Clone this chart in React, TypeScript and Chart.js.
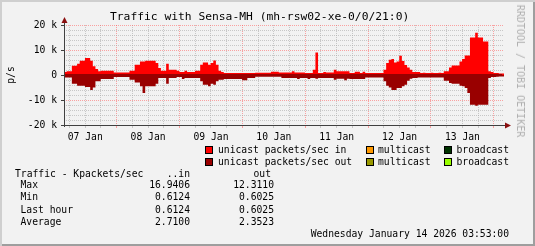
import React, { useEffect, useRef } from 'react';
import { Chart, registerables } from 'chart.js';
Chart.register(...registerables);

// Time window: 07 Jan 03:53 -> 14 Jan 03:53, hourly samples
const startHour = 3 + 53 / 60;
const hoursShown = 168;
const dayLabels = ['07 Jan', '08 Jan', '09 Jan', '10 Jan', '11 Jan', '12 Jan', '13 Jan'];

// unicast packets/sec in (Kpackets/s), one value per hour
const inValues = [
  1.2, 1.2, 1.5, 1.5, 3.7, 3.7, 4.5, 5.7, 5.7, 6.8, 6.8, 5.7, 3.5, 2.4, 1.5, 1.7, 1.7, 1.7, 1.7, 1.7,
  1.0, 1.0, 1.0, 1.0, 1.0, 1.0, 1.7, 1.7, 4.1, 4.1, 5.4, 5.4, 5.7, 5.7, 5.7, 5.7, 4.8, 2.8, 1.7, 1.7,
  4.5, 2.1, 2.1, 2.1, 1.7, 1.2, 1.2, 1.7, 1.2, 1.2, 1.2, 1.7, 1.7, 4.1, 5.0, 5.0, 4.1, 4.8, 5.8, 4.1,
  1.7, 1.2, 0.8, 0.8, 0.8, 0.8, 0.8, 0.8, 0.8, 0.8, 0.8, 0.8, 0.8, 0.8, 0.9, 0.9, 0.9, 0.9, 0.9, 0.9,
  1.3, 1.3, 1.3, 1.0, 1.0, 1.0, 1.0, 1.0, 1.5, 1.0, 1.0, 1.0, 1.0, 0.8, 0.8, 0.8, 2.1, 9.0, 0.8, 0.8,
  1.2, 1.0, 1.0, 1.0, 2.1, 1.5, 1.5, 1.5, 1.5, 1.5, 0.8, 0.8, 1.3, 1.3, 0.8, 1.3, 0.8, 0.8, 0.8, 0.8,
  0.8, 0.8, 0.8, 2.1, 4.8, 6.1, 6.4, 5.0, 5.4, 7.7, 5.6, 4.0, 3.0, 2.1, 1.2, 1.2, 1.2, 0.8, 0.9, 0.8,
  0.8, 0.9, 0.8, 0.8, 0.9, 0.8, 1.5, 1.5, 3.0, 3.8, 3.8, 3.8, 5.4, 6.4, 7.8, 7.8, 15.0, 15.0, 16.94, 15.0,
  15.0, 13.4, 13.4, 1.5, 1.2, 0.8, 0.8, 0.61,
];

// unicast packets/sec out (Kpackets/s), one value per hour, drawn below zero
const outValues = [
  1.0, 1.0, 1.0, 1.0, 3.5, 3.5, 4.3, 4.3, 4.3, 4.8, 4.8, 6.0, 5.0, 2.5, 2.5, 1.6, 1.6, 1.6, 1.6, 1.6,
  0.8, 0.8, 0.8, 0.8, 0.8, 0.8, 1.9, 1.9, 3.0, 3.0, 4.5, 7.2, 4.5, 4.5, 4.5, 4.5, 3.5, 1.2, 1.2, 1.2,
  3.5, 1.2, 1.2, 1.2, 0.8, 0.8, 1.6, 1.2, 1.2, 1.2, 1.2, 1.2, 1.2, 2.5, 3.9, 3.9, 4.5, 3.5, 3.9, 2.5,
  1.9, 1.9, 1.6, 1.6, 1.6, 1.6, 1.6, 1.6, 1.6, 2.1, 2.1, 1.2, 1.2, 1.2, 0.7, 0.7, 0.7, 0.7, 0.7, 0.7,
  0.7, 0.7, 0.7, 0.7, 1.2, 1.2, 1.2, 1.2, 1.2, 1.2, 1.6, 1.2, 1.2, 1.2, 1.6, 1.2, 1.2, 1.5, 1.2, 1.2,
  1.2, 1.2, 1.2, 1.2, 1.9, 1.5, 1.5, 1.5, 2.1, 1.5, 1.6, 1.6, 1.6, 1.6, 1.6, 1.6, 1.0, 1.0, 1.0, 1.0,
  1.0, 1.0, 1.0, 2.5, 4.3, 5.0, 6.0, 6.0, 5.2, 5.2, 4.5, 3.9, 2.3, 1.5, 1.2, 1.2, 1.0, 1.0, 1.0, 1.0,
  1.0, 1.0, 1.0, 1.0, 1.0, 1.0, 2.3, 2.3, 3.2, 3.5, 3.5, 3.5, 4.3, 4.5, 5.2, 7.2, 11.9, 11.9, 12.31, 11.9,
  11.9, 11.9, 11.9, 1.2, 0.8, 0.8, 0.7, 0.6,
];

const legendRow1 = [
  { color: '#ff0000', label: 'unicast packets/sec in' },
  { color: '#ff9900', label: 'multicast' },
  { color: '#003300', label: 'broadcast' },
];
const legendRow2 = [
  { color: '#990000', label: 'unicast packets/sec out' },
  { color: '#999900', label: 'multicast' },
  { color: '#99ff00', label: 'broadcast' },
];
const statLabels = ['Max', 'Min', 'Last hour', 'Average'];
const statIn = ['16.9406', '0.6124', '0.6124', '2.7100'];
const statOut = ['12.3110', '0.6025', '0.6025', '2.3523'];
const titleText = 'Traffic with Sensa-MH (mh-rsw02-xe-0/0/21:0)';
const dateText = 'Wednesday January 14 2026 03:53:00';

const MONO = '"DejaVu Sans Mono", monospace';
const BG = '#f2f2f2';
const MINOR = 'rgba(170,170,170,0.6)';
const MAJOR = 'rgba(255,80,80,0.5)';

const toSteps = (vals: number[], sign: number) => {
  const pts = vals.map((v, i) => ({ x: i, y: sign * v }));
  pts.push({ x: vals.length, y: sign * vals[vals.length - 1] });
  return pts;
};

const hourOfDay = (v: number) => ((Math.round((startHour + v) * 60) / 60) % 24 + 24) % 24;
const isMajorY = (v: number) => {
  const r = Math.round(v);
  return Math.abs(r - v) < 1e-6 && r % 10 === 0;
};

const axisDecor = {
  id: 'axisDecor',
  afterDatasetsDraw(chart: any) {
    const { ctx, chartArea, scales } = chart;
    const y0 = scales.y.getPixelForValue(0);
    ctx.save();
    ctx.fillStyle = '#990000';
    ctx.fillRect(chartArea.left, y0 - 1, chartArea.right - chartArea.left - 2, 2);
    ctx.restore();
  },
  afterDraw(chart: any) {
    const { ctx, chartArea } = chart;
    const { left, right, top, bottom } = chartArea;
    ctx.save();
    ctx.strokeStyle = '#404040';
    ctx.lineWidth = 1;
    ctx.beginPath();
    ctx.moveTo(left + 0.5, bottom + 2);
    ctx.lineTo(left + 0.5, top - 4);
    ctx.moveTo(left - 3, bottom + 0.5);
    ctx.lineTo(right + 3, bottom + 0.5);
    ctx.stroke();
    ctx.fillStyle = '#8b1010';
    ctx.beginPath();
    ctx.moveTo(left + 0.5, top - 8);
    ctx.lineTo(left - 2.5, top - 2);
    ctx.lineTo(left + 3.5, top - 2);
    ctx.closePath();
    ctx.fill();
    ctx.beginPath();
    ctx.moveTo(right + 7, bottom + 0.5);
    ctx.lineTo(right + 1, bottom - 2.5);
    ctx.lineTo(right + 1, bottom + 3.5);
    ctx.closePath();
    ctx.fill();
    ctx.restore();
  },
};

function TrafficChart() {
  const ref = useRef<HTMLCanvasElement>(null);
  useEffect(() => {
    if (!ref.current) return;
    const chart = new Chart(ref.current, {
      type: 'line',
      data: {
        datasets: [
          {
            label: 'unicast packets/sec in',
            data: toSteps(inValues, 1),
            stepped: 'after',
            fill: 'origin',
            backgroundColor: '#ff0000',
            borderColor: 'transparent',
            borderWidth: 0,
            pointRadius: 0,
          },
          {
            label: 'unicast packets/sec out',
            data: toSteps(outValues, -1),
            stepped: 'after',
            fill: 'origin',
            backgroundColor: '#990000',
            borderColor: 'transparent',
            borderWidth: 0,
            pointRadius: 0,
          },
        ],
      },
      options: {
        animation: false,
        responsive: false,
        maintainAspectRatio: false,
        layout: { padding: { left: 0, right: 31, top: 25, bottom: 0 } },
        plugins: { legend: { display: false }, tooltip: { enabled: false }, title: { display: false } },
        scales: {
          x: {
            type: 'linear',
            min: 0,
            max: hoursShown,
            afterBuildTicks: (s: any) => {
              const first = 6 - (startHour % 6);
              const t = [];
              for (let v = first; v < hoursShown; v += 6) t.push({ value: v });
              s.ticks = t;
            },
            afterFit: (s: any) => {
              s.height = 121;
            },
            grid: {
              color: (c: any) => (hourOfDay(c.tick.value) < 0.01 ? MAJOR : MINOR),
              tickColor: (c: any) => (hourOfDay(c.tick.value) < 0.01 ? MAJOR : MINOR),
              tickLength: 3,
              lineWidth: 1,
            },
            border: { display: false, dash: [1, 1] },
            ticks: {
              autoSkip: false,
              maxRotation: 0,
              padding: 4,
              color: '#000',
              font: { family: MONO, size: 9.7 },
              callback: (v: any) => {
                const h = hourOfDay(Number(v));
                if (Math.abs(h - 12) < 0.01) return dayLabels[Math.floor((startHour + Number(v)) / 24)];
                return '';
              },
            },
          },
          y: {
            min: -20,
            max: 20,
            afterFit: (s: any) => {
              s.width = 64;
            },
            grid: {
              color: (c: any) => (isMajorY(c.tick.value) ? MAJOR : MINOR),
              tickColor: (c: any) => (isMajorY(c.tick.value) ? '#404040' : 'transparent'),
              tickLength: 3,
            },
            border: { display: false, dash: [1, 1] },
            ticks: {
              stepSize: 2,
              autoSkip: false,
              padding: 4,
              color: '#000',
              font: { family: MONO, size: 9.7 },
              callback: (v: any) => {
                if (!isMajorY(Number(v))) return '';
                const r = Math.round(Number(v));
                return r === 0 ? '0' : `${r} k`;
              },
            },
            title: {
              display: true,
              text: 'p/s',
              color: '#000',
              font: { family: MONO, size: 9.7 },
              padding: { top: 6, bottom: 0 },
            },
          },
        },
      },
      plugins: [axisDecor],
    });
    return () => chart.destroy();
  }, []);
  return <canvas ref={ref} width={535} height={246} style={{ position: 'absolute', left: 0, top: 0, width: 535, height: 246 }} />;
}

const txt = (size: number): React.CSSProperties => ({
  position: 'absolute',
  fontFamily: MONO,
  fontSize: size,
  lineHeight: `${size}px`,
  whiteSpace: 'pre',
  color: '#000',
  transform: 'translateY(-50%)',
});

const Square = ({ x, y, color }: { x: number; y: number; color: string }) => (
  <div style={{ position: 'absolute', left: x, top: y, width: 8, height: 8, boxSizing: 'border-box', border: '1px solid #000', background: color }} />
);

export default function App() {
  const legendX = [205, 366, 444];
  const legendTextX = [218, 378, 456.5];
  const statY = [185.3, 197.3, 209.7, 221.7];
  return (
    <div
      style={{
        position: 'fixed',
        left: 0,
        top: 0,
        width: 535,
        height: 246,
        background: BG,
        boxShadow: 'inset 2px 2px 0 #cfcfcf, inset -2px -2px 0 #9e9e9e',
        overflow: 'hidden',
      }}
    >
      <TrafficChart />
      <div style={{ ...txt(11.3), left: 110, top: 17 }}>{titleText}</div>
      <div
        style={{
          position: 'absolute',
          left: 520,
          top: 71,
          fontFamily: MONO,
          fontSize: 10,
          lineHeight: '10px',
          whiteSpace: 'pre',
          color: '#b0b0b0',
          transform: 'translate(-50%,-50%) rotate(90deg)',
        }}
      >
        RRDTOOL / TOBI OETIKER
      </div>
      {[legendRow1, legendRow2].map((row, r) =>
        row.map((it, i) => (
          <React.Fragment key={`${r}-${i}`}>
            <Square x={legendX[i]} y={146 + r * 12} color={it.color} />
            <div style={{ ...txt(9.7), left: legendTextX[i], top: 149.7 + r * 12 }}>{it.label}</div>
          </React.Fragment>
        ))
      )}
      <div style={{ ...txt(9.7), left: 15, top: 173.7 }}>Traffic - Kpackets/sec</div>
      <div style={{ ...txt(9.7), right: 535 - 190, top: 173.7 }}>..in</div>
      <div style={{ ...txt(9.7), right: 535 - 271, top: 173.7 }}>out</div>
      {statLabels.map((l, i) => (
        <React.Fragment key={l}>
          <div style={{ ...txt(9.7), left: 20.5, top: statY[i] }}>{l}</div>
          <div style={{ ...txt(9.7), right: 535 - 190, top: statY[i] }}>{statIn[i]}</div>
          <div style={{ ...txt(9.7), right: 535 - 274, top: statY[i] }}>{statOut[i]}</div>
        </React.Fragment>
      ))}
      <div style={{ ...txt(9.7), right: 535 - 509, top: 233.7 }}>{dateText}</div>
    </div>
  );
}
